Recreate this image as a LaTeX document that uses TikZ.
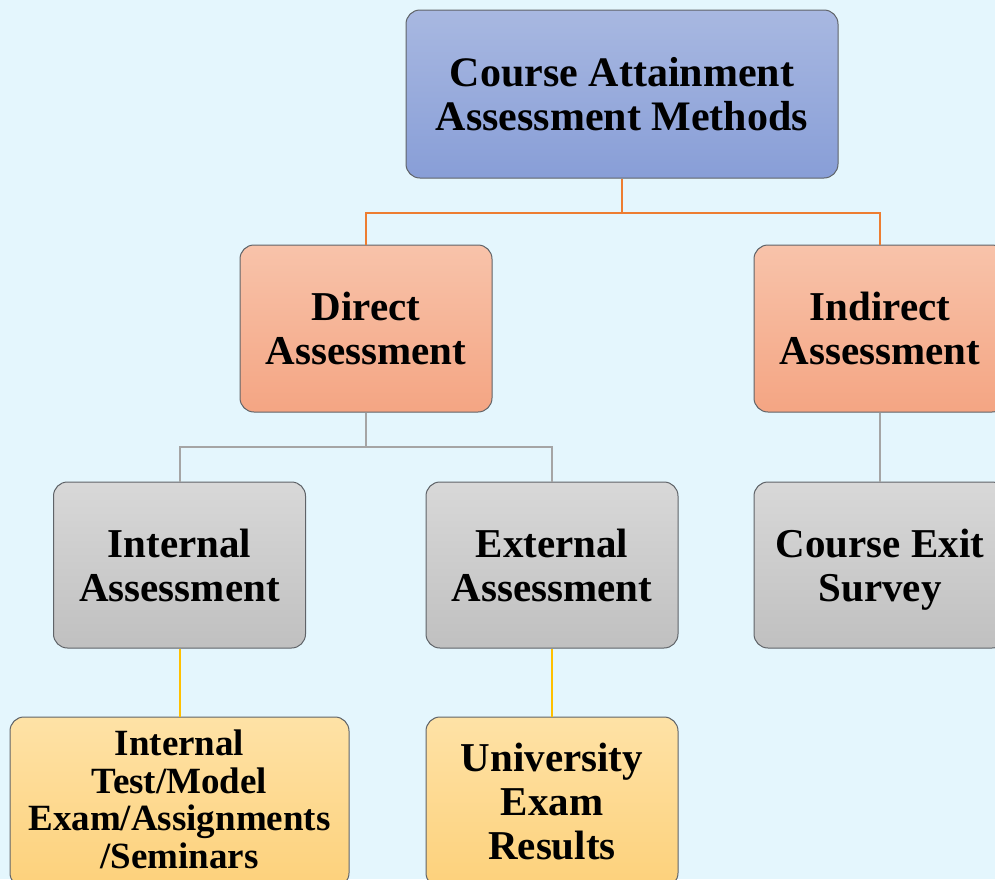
\documentclass[tikz,border=0pt]{standalone}
\usepackage{fontspec}
\setmainfont{Liberation Serif}
\definecolor{bgc}{HTML}{E4F6FD}
\definecolor{bordc}{HTML}{5F6368}
\definecolor{blueT}{HTML}{A8B8E1}
\definecolor{blueB}{HTML}{889ED7}
\definecolor{orT}{HTML}{F8C3AA}
\definecolor{orB}{HTML}{F4A583}
\definecolor{grT}{HTML}{D8D8D8}
\definecolor{grB}{HTML}{C0C0C0}
\definecolor{yeT}{HTML}{FEE2A6}
\definecolor{yeB}{HTML}{FDD17B}
\definecolor{lnO}{HTML}{ED7D31}
\definecolor{lnG}{HTML}{A5A5A5}
\definecolor{lnY}{HTML}{FFC000}
\tikzset{
  box/.style={draw=bordc, line width=1pt, rounded corners=14pt, align=center,
    font=\bfseries\fontsize{41}{44}\selectfont, inner sep=0pt},
  bluebox/.style={box, top color=blueT, bottom color=blueB, minimum width=432pt, minimum height=168pt},
  orbox/.style={box, top color=orT, bottom color=orB, minimum width=252pt, minimum height=167pt},
  grbox/.style={box, top color=grT, bottom color=grB, minimum width=252pt, minimum height=166pt},
  yebox/.style={box, top color=yeT, bottom color=yeB, minimum height=170pt},
  conO/.style={draw=lnO, line width=2pt},
  conG/.style={draw=lnG, line width=2pt},
  conY/.style={draw=lnY, line width=2pt},
}
\begin{document}
\begin{tikzpicture}[x=1pt,y=-1pt]
\useasboundingbox (0,0) rectangle (995,879);
\fill[bgc] (0,0) rectangle (995,879);
\clip (0,0) rectangle (995,879);
\node[bluebox, font=\bfseries\fontsize{42}{44}\selectfont] (top) at (622,94) {Course Attainment\\Assessment Methods};
\node[orbox] (direct) at (366,328.5) {Direct\\Assessment};
\node[orbox] (indirect) at (880,328.5) {Indirect\\Assessment};
\node[grbox] (internal) at (179.5,565) {Internal\\Assessment};
\node[grbox] (external) at (552,565) {External\\Assessment};
\node[grbox] (exit) at (880,565) {Course Exit\\\raisebox{0pt}[\height][0pt]{Survey}};
\node[yebox, minimum width=339pt, font=\bfseries\fontsize{37}{37.7}\selectfont] (itest) at (179.5,802) {Internal\\Test/Model\\Exam/Assignments\\/Seminars\rule[-6pt]{0pt}{6pt}};
\node[yebox, minimum width=252pt] (univ) at (552,802) {University\\Exam\\Results\rule[-2pt]{0pt}{2pt}};
\coordinate (j1) at (622,213);
\coordinate (j2) at (366,447);
\draw[conO] (top.south) -- (j1) -| (direct.north);
\draw[conO] (j1) -| (indirect.north);
\draw[conG] (direct.south) -- (j2) -| (internal.north);
\draw[conG] (j2) -| (external.north);
\draw[conG] (indirect.south) -- (exit.north);
\draw[conY] (internal.south) -- (itest.north);
\draw[conY] (external.south) -- (univ.north);
\end{tikzpicture}
\end{document}
